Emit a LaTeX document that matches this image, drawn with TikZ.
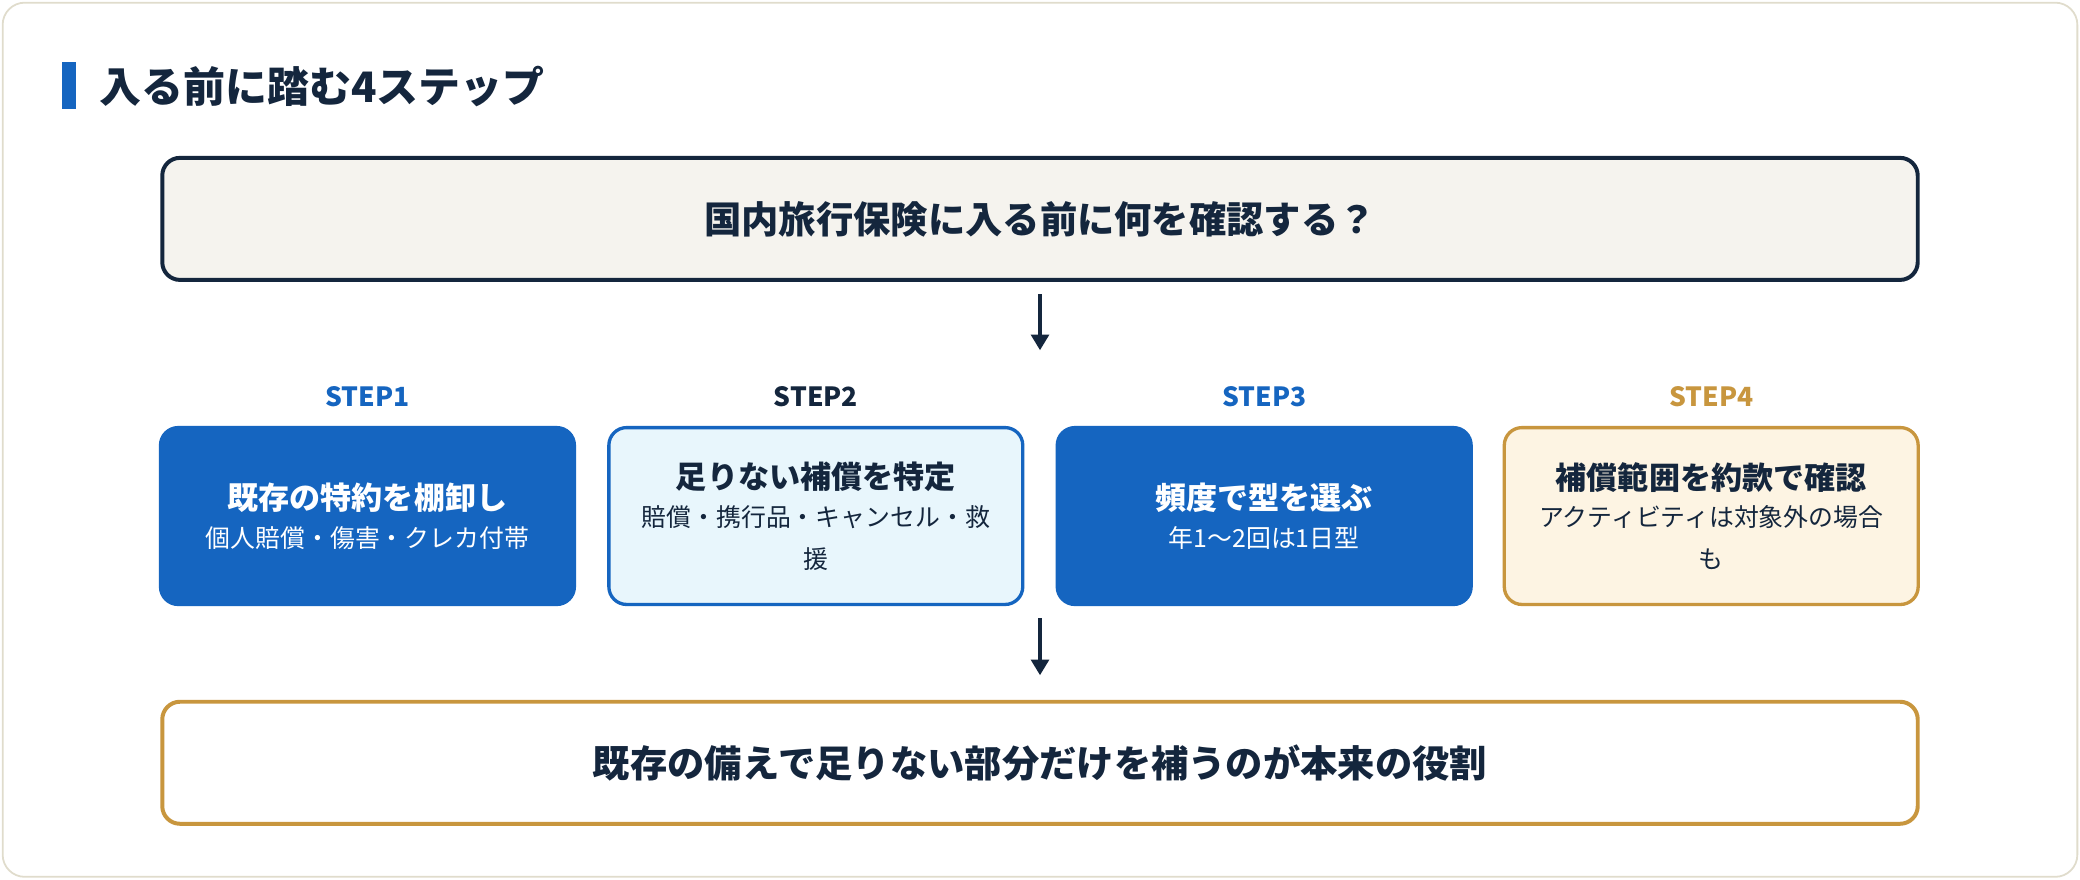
\documentclass[tikz,border=0pt]{standalone}
\usepackage{fontspec}
\setmainfont{Noto Sans CJK JP}
\usetikzlibrary{arrows.meta}
\definecolor{navy}{HTML}{14263D}
\definecolor{blu}{HTML}{1565C0}
\definecolor{gold}{HTML}{C8963E}
\definecolor{pale}{HTML}{E8F6FC}
\definecolor{cream}{HTML}{FDF4E3}
\definecolor{beige}{HTML}{F5F3EE}
\definecolor{frame}{HTML}{E0DCCC}
\begin{document}
\begin{tikzpicture}[x=0.3mm,y=-0.3mm,
 wide/.style={rounded corners=4mm,line width=0.9mm,minimum width=397mm,minimum height=27.6mm,font=\bfseries\fontsize{24}{28}\selectfont,text=navy},
 stepbox/.style={rounded corners=4mm,line width=0.75mm,minimum width=93.6mm,minimum height=40mm,align=center,text width=90mm,font=\fontsize{16}{27}\selectfont},
 lab/.style={font=\bfseries\fontsize{17}{20}\selectfont},
 arr/.style={-{Triangle[length=3.5mm,width=4mm]},line width=0.75mm,draw=navy}]
\newcommand\bigt[1]{{\bfseries\fontsize{20}{24}\selectfont #1}}
\useasboundingbox (0,0) rectangle (1568,663);
\draw[frame,fill=white,line width=0.4mm,rounded corners=5mm] (2,2) rectangle (1566,661);
\fill[blu] (47,47) rectangle (57,82);
\node[anchor=west,text=navy,font=\bfseries\fontsize{27}{31}\selectfont] (title) at (71,65) {入る前に踏む4ステップ};
\node[wide,draw=navy,fill=beige] (q) at (784,165) {国内旅行保険に入る前に何を確認する？};
\node[wide,draw=gold,fill=white] (r) at (784,575) {既存の備えで足りない部分だけを補うのが本来の役割};
\node[stepbox,draw=blu,fill=blu,text=white] (s1) at (277,389) {\bigt{既存の特約を棚卸し}\\[-1mm]個人賠償・傷害・クレカ付帯};
\node[stepbox,draw=blu,fill=pale,text=navy] (s2) at (615,389) {\bigt{足りない補償を特定}\\[-1mm]賠償・携行品・キャンセル・救\\援};
\node[stepbox,draw=blu,fill=blu,text=white] (s3) at (953,389) {\bigt{頻度で型を選ぶ}\\[-1mm]年1〜2回は1日型};
\node[stepbox,draw=gold,fill=cream,text=navy] (s4) at (1290,389) {\bigt{補償範囲を約款で確認}\\[-1mm]アクティビティは対象外の場合\\も};
\node[lab,text=blu] (l1) at (277,299) {STEP1};
\node[lab,text=navy] (l2) at (615,299) {STEP2};
\node[lab,text=blu] (l3) at (953,299) {STEP3};
\node[lab,text=gold] (l4) at (1290,299) {STEP4};
\coordinate (a1) at (784,222); \coordinate (a2) at (784,264);
\coordinate (b1) at (784,466); \coordinate (b2) at (784,509);
\draw[arr] (a1) -- (a2);
\draw[arr] (b1) -- (b2);
\end{tikzpicture}
\end{document}
